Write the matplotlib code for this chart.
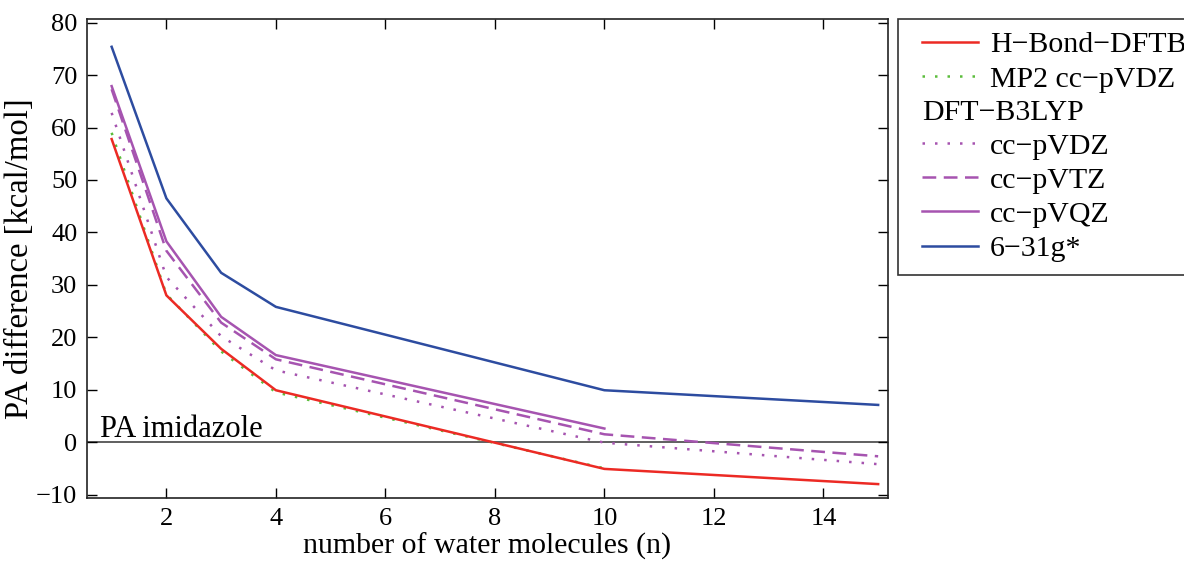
import matplotlib
matplotlib.use("Agg")
import matplotlib.pyplot as plt
from matplotlib.lines import Line2D
from matplotlib.legend_handler import HandlerLine2D
from matplotlib.offsetbox import DrawingArea

plt.rcParams['font.family'] = ['Liberation Serif', 'DejaVu Serif']
plt.rcParams['mathtext.fontset'] = 'stix'

# Cluster sizes (number of water molecules)
n_water = [1, 2, 3, 4, 10, 15]
n_mp2 = [1, 2, 3, 4, 10]
n_vqz = [1, 2, 3, 4, 10]

# Proton affinity differences [kcal/mol]
pa_hbond_dftb = [57.8, 28.0, 17.8, 9.9, -5.1, -8.0]
pa_mp2_vdz = [59.0, 28.2, 17.3, 9.5, -5.0]
pa_b3lyp_vdz = [62.8, 31.5, 20.2, 13.7, -0.1, -4.2]
pa_b3lyp_vtz = [67.3, 36.5, 22.8, 15.8, 1.5, -2.7]
pa_b3lyp_vqz = [67.9, 38.3, 23.9, 16.6, 2.6]
pa_b3lyp_631g = [75.4, 46.5, 32.3, 25.8, 9.9, 7.1]

labels = ["H\u2212Bond\u2212DFTB", "MP2 cc\u2212pVDZ", "DFT\u2212B3LYP",
          "cc\u2212pVDZ", "cc\u2212pVTZ", "cc\u2212pVQZ", "6\u221231g*"]
x_ticks = [2, 4, 6, 8, 10, 12, 14]
y_ticks = [-10, 0, 10, 20, 30, 40, 50, 60, 70, 80]

red = "#ec2a24"
green = "#5cbd3c"
purple = "#a654b0"
blue = "#2d4ca0"

fig = plt.figure(figsize=(11.84, 5.61), dpi=100)
ax = fig.add_axes([87 / 1184, 1 - 498 / 561, (888 - 87) / 1184, (498 - 19) / 561])

lw = 1.8
ax.axhline(0, color="#444444", lw=1.2, zorder=1)
h1, = ax.plot(n_water, pa_hbond_dftb, color=red, lw=lw, zorder=5)
h2, = ax.plot(n_mp2, pa_mp2_vdz, color=green, lw=lw, linestyle=(0, (1, 4)), zorder=4)
h4, = ax.plot(n_water, pa_b3lyp_vdz, color=purple, lw=lw, linestyle=(0, (1, 4)), zorder=3)
h5, = ax.plot(n_water, pa_b3lyp_vtz, color=purple, lw=lw, linestyle=(0, (5.5, 3)), zorder=3)
h6, = ax.plot(n_vqz, pa_b3lyp_vqz, color=purple, lw=lw, zorder=3)
h7, = ax.plot(n_water, pa_b3lyp_631g, color=blue, lw=lw, zorder=3)
header = Line2D([], [], linestyle="none", marker="none")

ax.text(0.78, 0.9, "PA imidazole", fontsize=22, ha="left", va="baseline")

ax.set_xlim(0.55, 15.18)
ax.set_ylim(-10.65, 80.7)
ax.set_xticks(x_ticks)
ax.set_yticks(y_ticks)
ax.set_yticklabels([f"{v}".replace("-", "\u2212") for v in y_ticks])
ax.tick_params(direction="in", length=7, width=1, top=True, right=True,
               labelsize=19, colors="black", pad=7)
for s in ax.spines.values():
    s.set_linewidth(1.2)
    s.set_color("#222222")

ax.set_xlabel("number of water molecules (n)", fontsize=21.5, labelpad=2)
ax.set_ylabel("PA difference [kcal/mol]", fontsize=23.5, labelpad=1)

leg_fs = 21.5
xpad = 0.4
leg = fig.legend([h1, h2, header, h4, h5, h6, h7], labels,
                 loc="upper left", bbox_to_anchor=(898 / 1184, 1 - 19 / 561),
                 fontsize=leg_fs, frameon=True, fancybox=False, edgecolor="black",
                 handlelength=2.25, handletextpad=0.4, labelspacing=0.24,
                 borderpad=0.42, borderaxespad=0,
                 handler_map={Line2D: HandlerLine2D(xpad=xpad)})
leg.get_frame().set_linewidth(1.2)

# The header row has no line sample: its text starts where the samples start
col = leg._legend_handle_box.get_children()[0]
row = col.get_children()[2]
row._children = [DrawingArea(xpad * leg_fs, 0), row.get_children()[1]]
row.sep = 0

fig.savefig("out.png", dpi=100)
